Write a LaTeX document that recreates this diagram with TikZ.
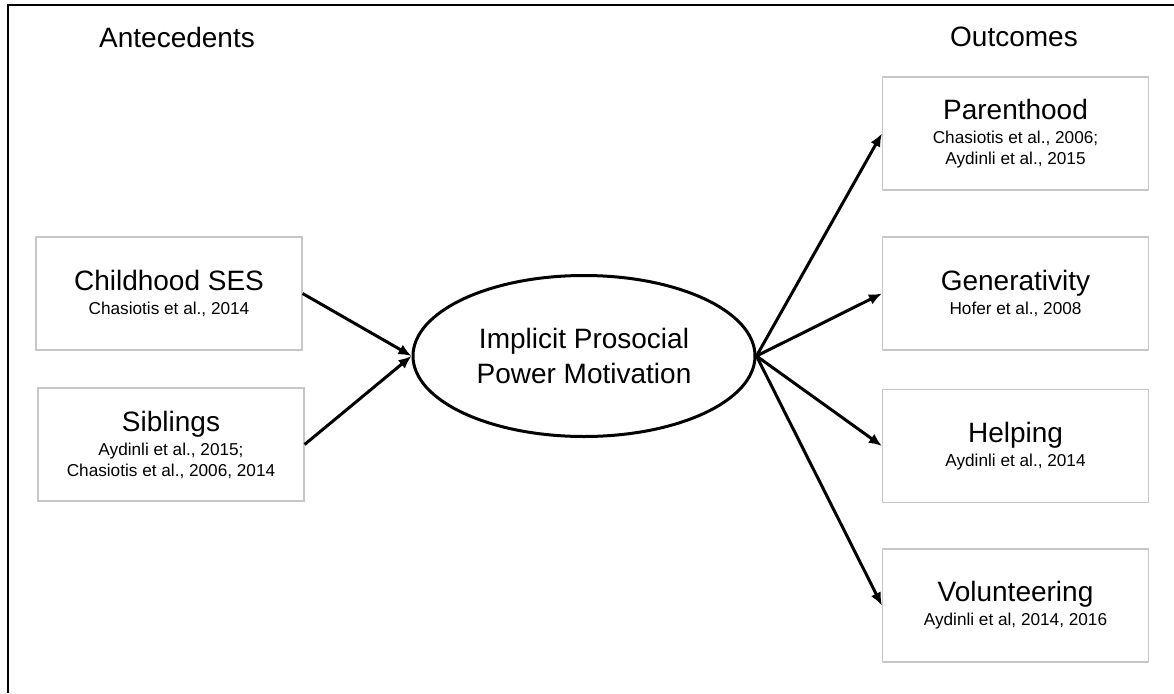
\documentclass[tikz,border=0pt]{standalone}
\usepackage{fontspec}
\setmainfont{Liberation Sans}
\usetikzlibrary{shapes.geometric,arrows.meta}
\newcommand{\ttl}[1]{{\fontsize{28}{34}\selectfont #1}}
\newcommand{\cit}[1]{{\fontsize{17.2}{21}\selectfont #1}}
\begin{document}
\begin{tikzpicture}[x=1pt,y=-1pt,
  box/.style={draw=black!22, line width=1.2pt, minimum width=266pt, minimum height=113pt, inner sep=0pt, align=center, font=\fontsize{17}{21}\selectfont},
  hdr/.style={font=\fontsize{28}{34}\selectfont, inner sep=0pt},
  arr/.style={line width=3pt, -{Latex[length=13pt,width=11pt]}},
  frame/.style={line width=2.2pt, black}]
\useasboundingbox (0,0) rectangle (1174,693);
% frame
\coordinate (ftl) at (8,5);
\coordinate (ftr) at (1174,5);
\coordinate (fbl) at (8,693);
\draw[frame] (fbl) -- (ftl) -- (ftr);
% headers
\node[hdr] (ante) at (177,37) {Antecedents};
\node[hdr] (outc) at (1014,37) {Outcomes};
% left boxes
\node[box] (ses) at (169,293.5) {\ttl{Childhood SES}\\[3pt]\cit{Chasiotis et al., 2014}};
\node[box] (sib) at (171,444.5) {\ttl{Siblings}\\[3pt]\cit{Aydinli et al., 2015;}\\\cit{Chasiotis et al., 2006, 2014}};
% ellipse
\node[ellipse, draw, line width=3pt, minimum width=342pt, minimum height=161pt, inner sep=0pt, align=center, font=\fontsize{28}{35}\selectfont] (ell) at (584,356) {Implicit Prosocial\\Power Motivation};
% right boxes
\node[box] (par) at (1015.5,133.5) {\ttl{Parenthood}\\[3pt]\cit{Chasiotis et al., 2006;}\\\cit{Aydinli et al., 2015}};
\node[box] (gen) at (1015.5,293.5) {\ttl{Generativity}\\[3pt]\cit{Hofer et al., 2008}};
\node[box] (hel) at (1015.5,446) {\ttl{Helping}\\[3pt]\cit{Aydinli et al., 2014}};
\node[box] (vol) at (1015.5,605.5) {\ttl{Volunteering}\\[3pt]\cit{Aydinli et al, 2014, 2016}};
% arrows
\draw[arr] (ses.east) -- (ell.west);
\draw[arr] (sib.east) -- (ell.west);
\draw[arr] (ell.east) -- (par.west);
\draw[arr] (ell.east) -- (gen.west);
\draw[arr] (ell.east) -- (hel.west);
\draw[arr] (ell.east) -- (vol.west);
\end{tikzpicture}
\end{document}
